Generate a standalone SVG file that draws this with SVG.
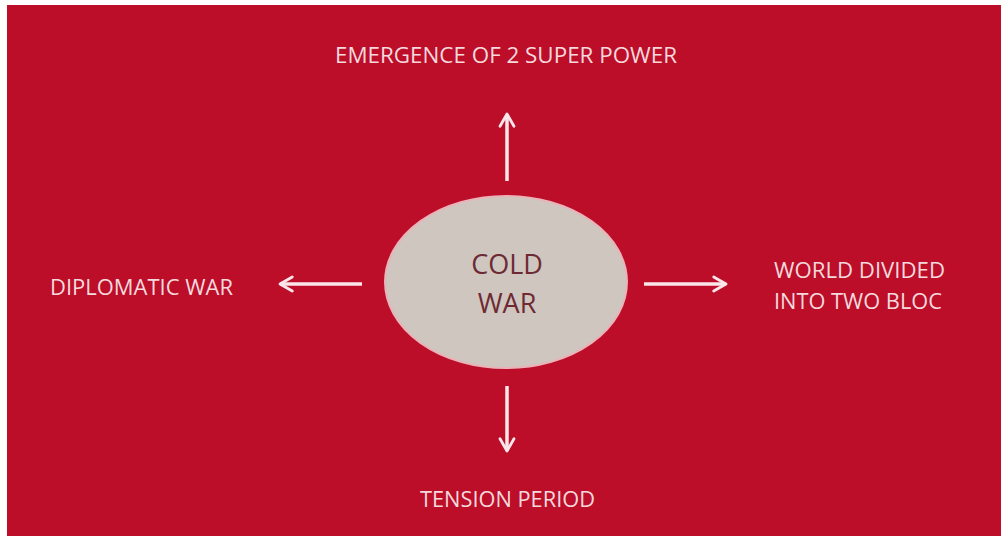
<svg xmlns="http://www.w3.org/2000/svg" width="1001" height="536" viewBox="0 0 1001 536">
  <style>
    .lbl { font-family: "Open Sans", "Liberation Sans", sans-serif; font-size: 21px; fill: #f6d9dd; }
    .core { font-family: "Open Sans", "Liberation Sans", sans-serif; font-size: 27px; fill: #6e2a33; text-anchor: middle; }
    .arr { stroke: #fbe6ea; stroke-width: 3.5; fill: none; marker-end: url(#head); }
  </style>
  <defs>
    <marker id="head" viewBox="0 0 10 10" refX="8" refY="5" markerWidth="5" markerHeight="5" markerUnits="strokeWidth" orient="auto">
      <path d="M1,1 L8,5 L1,9" fill="none" stroke="#fbe6ea" stroke-width="1.6" stroke-linecap="round" stroke-linejoin="round"/>
    </marker>
  </defs>
  <rect x="0" y="0" width="1001" height="536" fill="#ffffff"/>
  <rect x="7" y="5" width="994" height="531" fill="#bc0d29"/>

  <g id="connectors">
    <line class="arr" x1="507" y1="181" x2="507" y2="114"/>
    <line class="arr" x1="362" y1="284" x2="280" y2="284"/>
    <line class="arr" x1="644" y1="284" x2="726" y2="284"/>
    <line class="arr" x1="507" y1="386" x2="507" y2="451"/>
  </g>

  <g id="cold-war">
    <ellipse cx="506" cy="282" rx="121" ry="86" fill="#cfc6c0" stroke="#e9b3b8" stroke-width="2"/>
    <text class="core" x="507" y="274">COLD</text>
    <text class="core" x="507" y="313">WAR</text>
  </g>

  <g id="emergence">
    <text class="lbl" x="335" y="63" textLength="342" lengthAdjust="spacingAndGlyphs">EMERGENCE OF 2 SUPER POWER</text>
  </g>
  <g id="diplomatic">
    <text class="lbl" x="50" y="295" textLength="183" lengthAdjust="spacingAndGlyphs">DIPLOMATIC WAR</text>
  </g>
  <g id="world-divided">
    <text class="lbl" x="774" y="278" textLength="171" lengthAdjust="spacingAndGlyphs">WORLD DIVIDED</text>
    <text class="lbl" x="774" y="309" textLength="168" lengthAdjust="spacingAndGlyphs">INTO TWO BLOC</text>
  </g>
  <g id="tension">
    <text class="lbl" x="420" y="507" textLength="175" lengthAdjust="spacingAndGlyphs">TENSION PERIOD</text>
  </g>
</svg>
